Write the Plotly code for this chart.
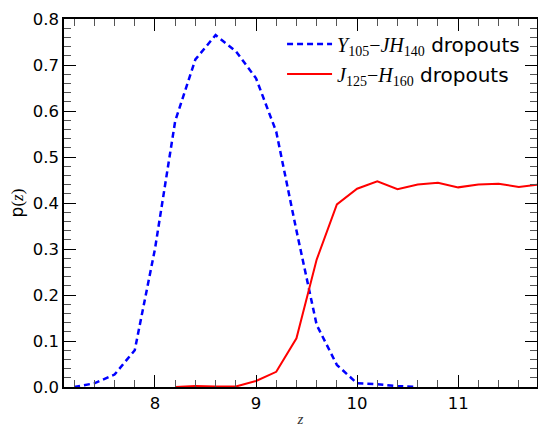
import plotly.graph_objects as go

z_blue = [7.2, 7.4, 7.6, 7.8, 8.0, 8.2, 8.4, 8.6, 8.8, 9.0, 9.2, 9.4, 9.6, 9.8, 10.0, 10.2, 10.4, 10.6]
p_blue = [0.000, 0.008, 0.027, 0.080, 0.300, 0.578, 0.712, 0.765, 0.730, 0.671, 0.555, 0.340, 0.135, 0.048, 0.008, 0.006, 0.002, 0.000]

z_red = [8.2, 8.4, 8.6, 8.8, 9.0, 9.2, 9.4, 9.6, 9.8, 10.0, 10.2, 10.4, 10.6, 10.8, 11.0, 11.2, 11.4, 11.6, 11.8]
p_red = [0.000, 0.002, 0.001, 0.001, 0.013, 0.033, 0.106, 0.277, 0.397, 0.431, 0.447, 0.430, 0.440, 0.444, 0.434, 0.440, 0.442, 0.435, 0.440]

x_ticks = [8, 9, 10, 11]
y_ticks = [0.0, 0.1, 0.2, 0.3, 0.4, 0.5, 0.6, 0.7, 0.8]

SERIF = "font-family:'Liberation Serif',serif;font-size:20px"
name_blue = (f"<span style=\"{SERIF}\"><i>Y</i><sub>105</sub>−<i>JH</i><sub>140</sub></span> dropouts")
name_red = (f"<span style=\"{SERIF}\"><i>J</i><sub>125</sub>−<i>H</i><sub>160</sub></span> dropouts")

fig = go.Figure()
fig.add_trace(go.Scatter(x=z_blue, y=p_blue, mode="lines", name=name_blue,
                         legendgroup="a",
                         line=dict(color="#0000ff", width=2.5, dash="6px,4px")))
fig.add_trace(go.Scatter(x=z_red, y=p_red, mode="lines", name=name_red,
                         legendgroup="b",
                         line=dict(color="#ff0000", width=2)))

axis_common = dict(
    showline=True, linecolor="black", linewidth=1.5, mirror="allticks",
    ticks="inside", ticklen=12, tickwidth=1, tickcolor="black",
    showgrid=False, zeroline=False, automargin=False,
    tickfont=dict(family="DejaVu Sans", size=16.5, color="black"),
)

fig.update_layout(
    width=538, height=427,
    margin=dict(l=64, r=1, t=19, b=40),
    paper_bgcolor="white", plot_bgcolor="white",
    font=dict(family="DejaVu Sans", color="black"),
    showlegend=True,
    legend=dict(x=0.461, y=0.985, xanchor="left", yanchor="top",
                bgcolor="rgba(0,0,0,0)", font=dict(size=20, family="DejaVu Sans"),
                itemwidth=45, tracegroupgap=1),
    xaxis=dict(range=[7.1, 11.78], tickvals=x_ticks, ticktext=[str(v) for v in x_ticks],
               minor=dict(dtick=0.2, tick0=0, ticks="inside", ticklen=7, tickcolor="#555", tickwidth=1),
               title=dict(text="<i>z</i>", font=dict(family="Liberation Serif", size=15, color="#333"), standoff=11),
               **axis_common),
    yaxis=dict(range=[0, 0.8], tickvals=y_ticks, ticktext=[f"{v:.1f}" for v in y_ticks],
               minor=dict(dtick=0.02, tick0=0, ticks="inside", ticklen=7, tickcolor="#555", tickwidth=1),
               title=dict(text="p<span style=\"font-family:'Liberation Serif',serif\">(<i>z</i>)</span>",
                          font=dict(family="DejaVu Sans", size=17, color="black"), standoff=5),
               **axis_common),
)

fig.write_html("out.html")
